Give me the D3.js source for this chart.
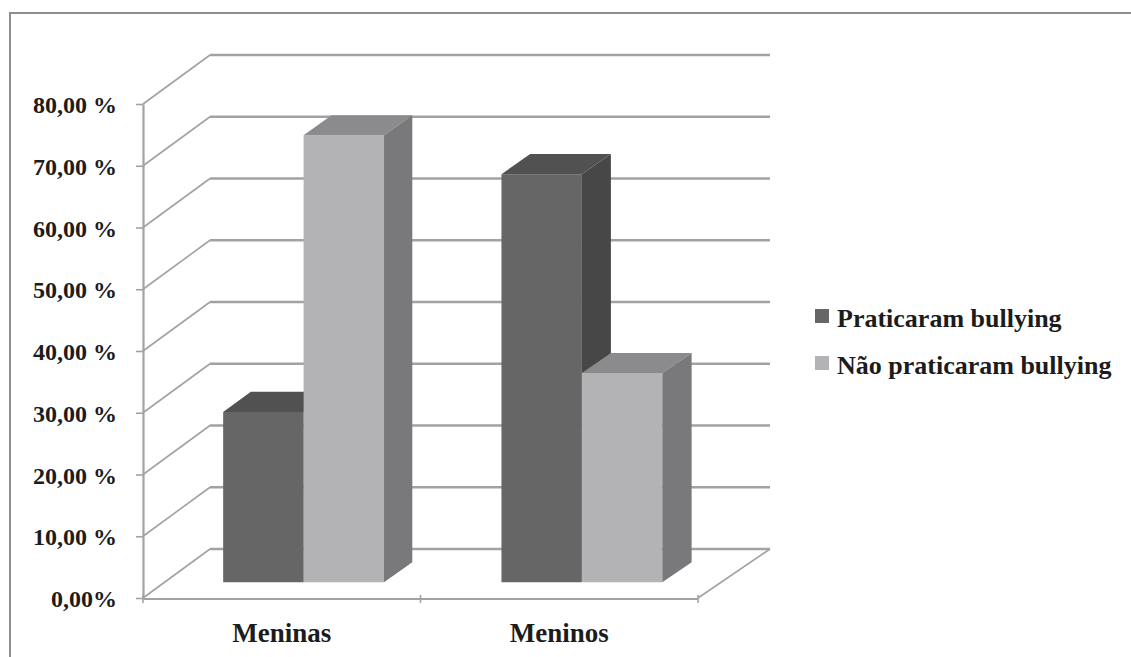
<!DOCTYPE html>
<html>
<head>
<meta charset="utf-8">
<script src="https://cdn.jsdelivr.net/npm/d3@7/dist/d3.min.js"></script>
<style>
  html, body { margin: 0; padding: 0; background: #fff; }
  svg { display: block; }
</style>
</head>
<body>
<svg id="chart" width="1131" height="657"></svg>
<script>
// ---- data ----
const categories = ["Meninas", "Meninos"];
const series = ["Praticaram bullying", "Não praticaram bullying"];
const praticaram = [27.6, 66.1];
const naoPraticaram = [72.4, 33.9];
const yTicks = [0, 10, 20, 30, 40, 50, 60, 70, 80];
const yTickLabels = ["0,00%", "10,00 %", "20,00 %", "30,00 %", "40,00 %", "50,00 %", "60,00 %", "70,00 %", "80,00 %"];

// ---- styles ----
const FONT = "'Liberation Serif', 'Times New Roman', serif";
const TEXT_COLOR = "#1c1c1c";
const faceColors = [
  { front: "#666667", top: "#515152", side: "#474748" },
  { front: "#b3b3b5", top: "#8b8b8d", side: "#79797b" }
];

const svg = d3.select("#chart");

// frame
svg.append("path")
  .attr("d", "M10,657 L10,13 L1131,13")
  .attr("fill", "none").attr("stroke", "#8e8e8e").attr("stroke-width", 2);

// scales (front plane)
const y = d3.scaleLinear().domain([0, 80]).range([598, 104]);
const x0 = d3.scaleBand().domain(categories).range([143, 698]);
const x1 = d3.scaleBand().domain(series).range([0, x0.bandwidth()]).paddingInner(0).paddingOuter(0.73);

// oblique depth projection
const [xL, xR] = x0.range();
function proj(x, yy, d) {
  const dx = 67 + 5 * (x - xL) / (xR - xL);
  return [x + d * dx, yy - 49 * d];
}

const gridColor = "#a2a2a2";
const grid = svg.append("g");

// back wall gridlines + left wall lines
yTicks.forEach(v => {
  const a = proj(xL, y(v), 1), b = proj(xR, y(v), 1);
  grid.append("line").attr("x1", a[0]).attr("y1", a[1]).attr("x2", b[0]).attr("y2", b[1])
    .attr("stroke", gridColor).attr("stroke-width", 2.5);
  const f = proj(xL, y(v), 0);
  grid.append("line").attr("x1", f[0]).attr("y1", f[1]).attr("x2", a[0]).attr("y2", a[1])
    .attr("stroke", gridColor).attr("stroke-width", 1.6);
});

// floor: front edge and right edge
const fl = proj(xL, y(0), 0), fr = proj(xR, y(0), 0), br = proj(xR, y(0), 1);
grid.append("line").attr("x1", fl[0]).attr("y1", fl[1] + 1).attr("x2", fr[0]).attr("y2", fr[1] + 1)
  .attr("stroke", gridColor).attr("stroke-width", 2.2);
grid.append("line").attr("x1", fr[0]).attr("y1", fr[1]).attr("x2", br[0]).attr("y2", br[1])
  .attr("stroke", gridColor).attr("stroke-width", 1.6);

// category boundary ticks
[xL, ...categories.slice(1).map(c => x0(c)), xR].forEach(xx => {
  grid.append("line").attr("x1", xx).attr("x2", xx).attr("y1", y(0) - 3).attr("y2", y(0) + 5)
    .attr("stroke", gridColor).attr("stroke-width", 1.6);
});

// y axis
const yAxis = d3.axisLeft(y).tickValues(yTicks)
  .tickFormat((d, i) => yTickLabels[i]).tickSize(7).tickSizeOuter(0).tickPadding(19);
const gy = svg.append("g").attr("transform", `translate(${xL},0)`).call(yAxis)
  .attr("font-family", null).attr("font-size", null);
gy.select(".domain").attr("stroke", gridColor).attr("stroke-width", 2.2);
gy.selectAll(".tick line").attr("stroke", gridColor).attr("stroke-width", 1.6);
gy.selectAll(".tick text")
  .attr("dy", "0.36em").attr("fill", TEXT_COLOR)
  .style("font-family", FONT).style("font-weight", "bold").style("font-size", "24px");

// category labels
const xAxis = d3.axisBottom(x0).tickSize(0).tickPadding(25);
const gx = svg.append("g").attr("transform", `translate(0,${y(0)})`).call(xAxis)
  .attr("font-family", null).attr("font-size", null);
gx.select(".domain").remove();
gx.selectAll(".tick text").attr("fill", TEXT_COLOR)
  .style("font-family", FONT).style("font-weight", "bold").style("font-size", "27px");

// bars
const d0 = 0.32, d1 = 0.73;
const seriesValues = [praticaram, naoPraticaram];
const bars = [];
categories.forEach((c, ci) => {
  series.forEach((s, si) => {
    bars.push({ c, s, si, v: seriesValues[si][ci] });
  });
});

const gb = svg.append("g");
const pts = arr => arr.map(p => p.join(",")).join(" ");
bars.forEach(b => {
  const xa = x0(b.c) + x1(b.s), xb = xa + x1.bandwidth();
  const yt = y(b.v), yb = y(0);
  const col = faceColors[b.si];
  const g = gb.append("g");
  g.append("polygon").attr("points", pts([proj(xa, yt, d0), proj(xb, yt, d0), proj(xb, yb, d0), proj(xa, yb, d0)]))
    .attr("fill", col.front);
  g.append("polygon").attr("points", pts([proj(xa, yt, d0), proj(xb, yt, d0), proj(xb, yt, d1), proj(xa, yt, d1)]))
    .attr("fill", col.top);
  g.append("polygon").attr("points", pts([proj(xb, yt, d0), proj(xb, yt, d1), proj(xb, yb, d1), proj(xb, yb, d0)]))
    .attr("fill", col.side);
});

// legend
const legend = svg.append("g").attr("transform", "translate(815,309)");
series.forEach((s, i) => {
  const g = legend.append("g").attr("transform", `translate(0,${i * 47})`);
  g.append("rect").attr("width", 14).attr("height", 14).attr("fill", faceColors[i].front);
  g.append("text").attr("x", 22).attr("y", 18).attr("fill", TEXT_COLOR)
    .style("font-family", FONT).style("font-weight", "bold").style("font-size", "26px")
    .text(s);
});
</script>
</body>
</html>
